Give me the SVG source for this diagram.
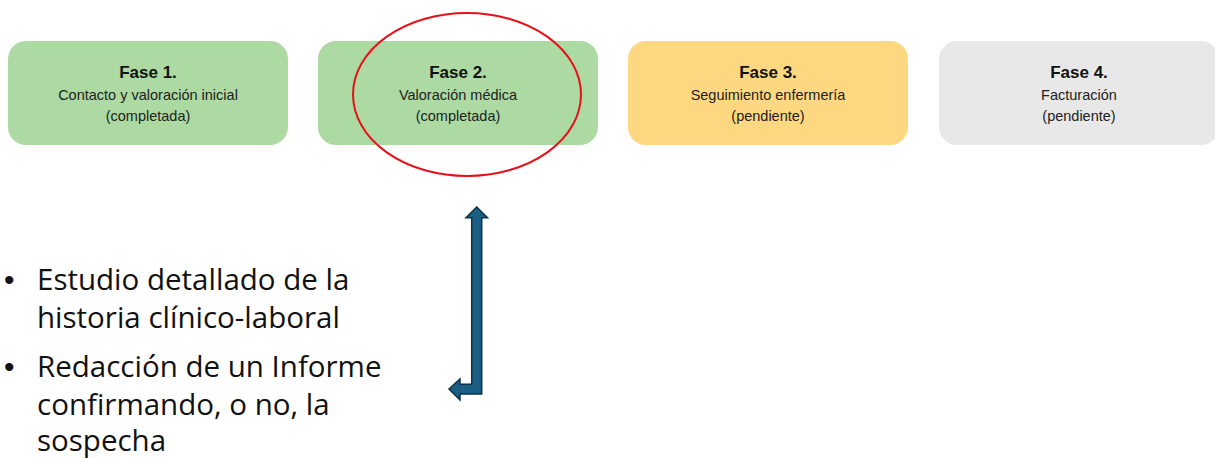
<svg xmlns="http://www.w3.org/2000/svg" width="1215" height="458" viewBox="0 0 1215 458">
  <style>
    .phase { stroke: none; }
    .done { fill: #acdaa2; }
    .wait { fill: #fed880; }
    .todo { fill: #e8e8e8; }
    .title { font-family: "Liberation Sans", Arial, sans-serif; font-size: 17px; font-weight: bold; fill: #111; text-anchor: middle; }
    .sub { font-family: "Liberation Sans", Arial, sans-serif; font-size: 14.5px; fill: #222; text-anchor: middle; }
    .bullet { font-family: "Open Sans", "Noto Sans", sans-serif; font-size: 29.5px; fill: #111; }
    .dot { font-family: "Liberation Sans", Arial, sans-serif; font-size: 30px; fill: #111; }
  </style>
  <rect width="1215" height="458" fill="#ffffff"/>

  <g id="fase1">
    <rect class="phase done" x="8" y="41" width="280" height="104" rx="18"/>
    <text class="title" x="148" y="78">Fase 1.</text>
    <text class="sub" x="148" y="100">Contacto y valoración inicial</text>
    <text class="sub" x="148" y="121">(completada)</text>
  </g>
  <g id="fase2">
    <rect class="phase done" x="318" y="41" width="280" height="104" rx="18"/>
    <text class="title" x="458" y="78">Fase 2.</text>
    <text class="sub" x="458" y="100">Valoración médica</text>
    <text class="sub" x="458" y="121">(completada)</text>
  </g>
  <g id="fase3">
    <rect class="phase wait" x="628" y="41" width="280" height="104" rx="18"/>
    <text class="title" x="768" y="78">Fase 3.</text>
    <text class="sub" x="768" y="100">Seguimiento enfermería</text>
    <text class="sub" x="768" y="121">(pendiente)</text>
  </g>
  <g id="fase4">
    <rect class="phase todo" x="939" y="41" width="280" height="104" rx="18"/>
    <text class="title" x="1079" y="78">Fase 4.</text>
    <text class="sub" x="1079" y="100">Facturación</text>
    <text class="sub" x="1079" y="121">(pendiente)</text>
  </g>

  <!-- highlight around phase 2 -->
  <ellipse id="highlight" cx="467" cy="94.5" rx="114" ry="81.5" fill="none" stroke="#e8101a" stroke-width="2"/>

  <g id="connectors">
    <path d="M476.7 207 L487.5 217.7 L481.7 217.7 L481.7 394 L460 394 L460 400 L449 389 L460 379 L460 384.3 L471.7 384.3 L471.7 217.7 L466 217.7 Z"
          fill="#1c5f84" stroke="#0d3147" stroke-width="1.5" stroke-linejoin="miter"/>
  </g>

  <g id="notes">
    <text class="dot" x="4" y="290">•</text>
    <text class="bullet" x="37" y="290">Estudio detallado de la</text>
    <text class="bullet" x="37" y="328">historia clínico-laboral</text>
    <text class="dot" x="4" y="377">•</text>
    <text class="bullet" x="37" y="377">Redacción de un Informe</text>
    <text class="bullet" x="37" y="415">confirmando, o no, la</text>
    <text class="bullet" x="37" y="451">sospecha</text>
  </g>
</svg>
